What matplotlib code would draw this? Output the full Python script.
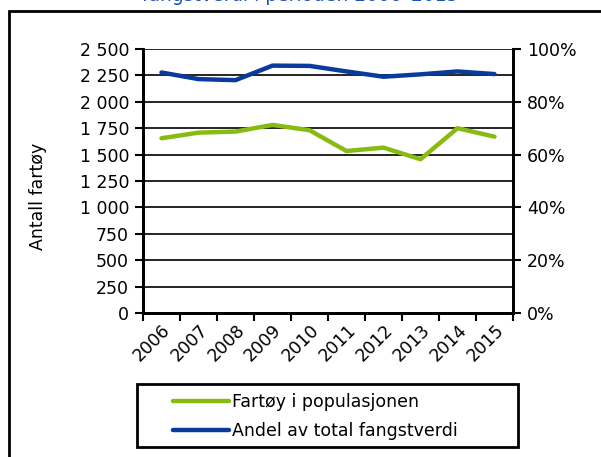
import matplotlib
matplotlib.use("Agg")
import matplotlib.pyplot as plt
from matplotlib.patches import Rectangle
from matplotlib.ticker import FuncFormatter, MultipleLocator
import numpy as np

years = ["2006", "2007", "2008", "2009", "2010", "2011", "2012", "2013", "2014", "2015"]
fartoy = [1655, 1708, 1718, 1781, 1731, 1534, 1566, 1456, 1750, 1670]
andel = [91.1, 88.6, 88.2, 93.7, 93.6, 91.5, 89.5, 90.4, 91.5, 90.5]

GREEN = "#86BC12"
BLUE = "#0A3A9C"
TITLE_BLUE = "#1F52B8"
FS = 12.5

plt.rcParams["font.family"] = ["DejaVu Sans"]

W, H = 601, 457
fig = plt.figure(figsize=(W / 100, H / 100), dpi=100)


def box(x0, y0, x1, y1):
    # pixel box (top-left origin) -> figure fraction rect
    return [x0 / W, 1 - y1 / H, (x1 - x0) / W, (y1 - y0) / H]


ax = fig.add_axes(box(143, 49, 513, 313))
ax2 = ax.twinx()

x = np.arange(len(years))
ax.plot(x, fartoy, color=GREEN, lw=3.2, solid_capstyle="round", label="Fartøy i populasjonen", zorder=3)
ax2.plot(x, andel, color=BLUE, lw=3.2, solid_capstyle="round", label="Andel av total fangstverdi", zorder=3)

ax.set_xlim(-0.5, len(years) - 0.5)
ax.set_ylim(0, 2500)
ax2.set_ylim(0, 100)

ax.yaxis.set_major_locator(MultipleLocator(250))
ax.yaxis.set_major_formatter(FuncFormatter(lambda v, p: f"{int(v):,}".replace(",", " ")))
ax2.yaxis.set_major_locator(MultipleLocator(20))
ax2.yaxis.set_major_formatter(FuncFormatter(lambda v, p: f"{int(v)}%"))

ax.grid(axis="y", color="black", lw=1.2)
ax.set_axisbelow(True)

# category ticks between years, labels at centres
ax.set_xticks(np.arange(-0.5, len(years) + 0.5, 1))
ax.set_xticklabels([])
ax.set_xticks(x, minor=True)
ax.set_xticklabels(years, minor=True, rotation=45, ha="right", rotation_mode="anchor", fontsize=FS)
ax.tick_params(axis="x", which="minor", length=0, pad=6)
ax.tick_params(axis="x", which="major", length=6, width=1.5, direction="out")
ax.tick_params(axis="y", length=6, width=1.5, labelsize=FS, pad=4)
ax2.tick_params(axis="y", length=6, width=1.5, labelsize=FS, pad=4)

for a in (ax, ax2):
    for s in a.spines.values():
        s.set_linewidth(2)
ax.spines["top"].set_visible(False)
ax2.spines["top"].set_visible(False)

ax.set_ylabel("Antall fartøy", fontsize=FS)
ax.yaxis.set_label_coords(-96 / 370, (313 - 196) / 264)

fig.text(300 / W, 1 - (-4) / H, "fangstverdi i perioden 2006–2015", color=TITLE_BLUE,
         fontsize=FS + 1, ha="center", va="center")

# outer chart border
fig.patches.append(Rectangle((8.5 / W, -0.1), 1.2, 1 - 10.5 / H + 0.1, transform=fig.transFigure,
                             fill=False, edgecolor="black", lw=2))

# legend frame drawn separately, entries placed inside it
lx0, ly0, lw_, lh_ = box(137, 384, 518, 447)
fig.patches.append(Rectangle((lx0, ly0), lw_, lh_, transform=fig.transFigure,
                             fill=False, edgecolor="black", lw=2))
h1, l1 = ax.get_legend_handles_labels()
h2, l2 = ax2.get_legend_handles_labels()
leg = fig.legend(h1 + h2, l1 + l2, loc="upper left",
                 bbox_to_anchor=(173 / W, 1 - 393 / H),
                 fontsize=FS, frameon=False, borderpad=0, borderaxespad=0,
                 handlelength=3.2, handletextpad=0.2, labelspacing=0.65)

fig.savefig("out.png", dpi=100)
